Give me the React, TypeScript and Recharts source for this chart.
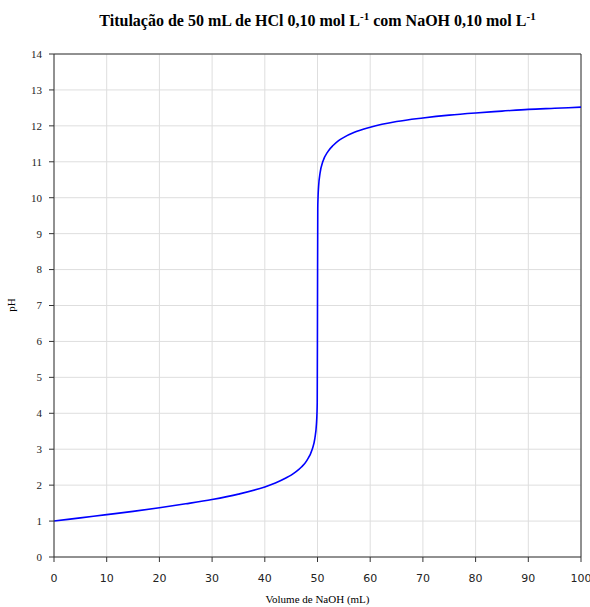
import React from 'react';
import { LineChart, Line, XAxis, YAxis, CartesianGrid, ReferenceLine } from 'recharts';

// volume of NaOH added (mL) and the resulting pH
const volume = [0, 5, 10, 15, 20, 25, 30, 35, 40, 42, 44, 45, 46, 47, 48, 49, 49.5, 49.8, 49.9, 49.95, 50, 50.05, 50.1, 50.2, 50.5, 51, 52, 53, 54, 55, 57, 60, 65, 70, 75, 80, 85, 90, 95, 100];
const ph = [1.0, 1.09, 1.18, 1.27, 1.37, 1.48, 1.6, 1.75, 1.95, 2.06, 2.2, 2.28, 2.38, 2.51, 2.69, 3.0, 3.3, 3.7, 4.0, 4.3, 7.0, 9.7, 10.0, 10.3, 10.7, 11.0, 11.29, 11.46, 11.59, 11.68, 11.82, 11.96, 12.12, 12.22, 12.3, 12.36, 12.41, 12.46, 12.49, 12.52];

const xTicks = [0, 10, 20, 30, 40, 50, 60, 70, 80, 90, 100];
const yTicks = [0, 1, 2, 3, 4, 5, 6, 7, 8, 9, 10, 11, 12, 13, 14];

const data = volume.map((v, i) => ({ v, ph: ph[i] }));

const axisColor = '#333';

const App: React.FC = () => {
  return (
    <div style={{ position: 'absolute', left: 0, top: 0, width: 590, height: 607, background: '#fff' }}>
      <div style={{
        position: 'absolute', left: 0, width: 635, top: 10, textAlign: 'center',
        fontFamily: '"Liberation Serif", serif', fontWeight: 700, fontSize: 16, color: '#000'
      }}>
        Titulação de 50 mL de HCl 0,10 mol L<sup style={{ fontSize: 11 }}>-1</sup> com NaOH 0,10 mol L<sup style={{ fontSize: 11 }}>-1</sup>
      </div>
      <LineChart width={590} height={607} data={data} margin={{ top: 54, right: 9, bottom: 20, left: 0 }}>
        <CartesianGrid stroke="#dedede" vertical horizontal />
        <XAxis
          dataKey="v"
          type="number"
          domain={[0, 100]}
          ticks={xTicks}
          height={30}
          tickSize={5}
          tickMargin={12}
          stroke={axisColor}
          tick={{ fill: '#222', fontSize: 11, fontFamily: '"DejaVu Sans", sans-serif' }}
          label={{ value: 'Volume de NaOH (mL)', position: 'insideBottom', offset: -16, fill: '#000', fontSize: 11, fontFamily: '"Liberation Serif", serif' }}
        />
        <YAxis
          type="number"
          domain={[0, 14]}
          ticks={yTicks}
          width={54}
          tickSize={5}
          tickMargin={7}
          stroke={axisColor}
          tick={{ fill: '#222', fontSize: 11, fontFamily: '"Liberation Serif", serif' }}
          label={{
            content: () => (
              <text x={15} y={305} transform="rotate(-90 15 305)" textAnchor="middle" fontSize={11}
                fontFamily='"Liberation Serif", serif' fill="#000">pH</text>
            )
          }}
        />
        <ReferenceLine y={14} stroke={axisColor} />
        <ReferenceLine x={100} stroke={axisColor} />
        <Line type="monotone" dataKey="ph" stroke="#0000ff" strokeWidth={1.6} dot={false} isAnimationActive={false} />
      </LineChart>
    </div>
  );
};

export default App;
